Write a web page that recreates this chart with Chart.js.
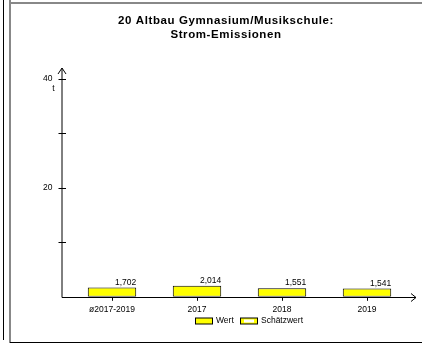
<!DOCTYPE html>
<html>
<head>
<meta charset="utf-8">
<script src="https://cdn.jsdelivr.net/npm/chart.js@4/dist/chart.umd.min.js"></script>
<style>
  html, body { margin: 0; padding: 0; background: #fff; }
  canvas { display: block; }
</style>
</head>
<body>
<canvas id="chart" width="422" height="343"></canvas>
<script>
// chart data
const categories = ['ø2017-2019', '2017', '2018', '2019']
const values = [1.702, 2.014, 1.551, 1.541]
const yTickLabels = ['20', '40']
const titleLines = ['20 Altbau Gymnasium/Musikschule:', 'Strom-Emissionen']
const legendLabels = ['Wert', 'Schätzwert']
const unitLabel = 't'

const FONT = '"Liberation Sans", Arial, sans-serif'
const BAR_COLOR = '#ffff00'

const fmt = (v) => v.toFixed(3).replace('.', ',')

const decorations = {
  id: 'decorations',
  afterDraw: (chart) => {
    const ctx = chart.ctx
    const area = chart.chartArea
    const y = chart.scales.y
    const axisX = area.left - 7.5
    const axisY = Math.round(area.bottom) + 0.5
    ctx.save()

    // frame
    ctx.strokeStyle = '#000'
    ctx.lineWidth = 1
    ctx.beginPath()
    ctx.moveTo(3.5, 0); ctx.lineTo(3.5, 340)
    ctx.stroke()
    ctx.strokeStyle = '#888'
    ctx.lineWidth = 2
    ctx.beginPath()
    ctx.moveTo(10, 0); ctx.lineTo(10, 343)
    ctx.moveTo(10, 3); ctx.lineTo(422, 3)
    ctx.stroke()
    ctx.strokeStyle = '#000'
    ctx.lineWidth = 1
    ctx.beginPath()
    ctx.moveTo(10, 342.5); ctx.lineTo(422, 342.5)
    ctx.stroke()

    // title
    ctx.fillStyle = '#000'
    ctx.font = 'bold 11.5px ' + FONT
    ctx.letterSpacing = '0.6px'
    ctx.textAlign = 'center'
    ctx.textBaseline = 'alphabetic'
    ctx.fillText(titleLines[0], 226, 23.5)
    ctx.fillText(titleLines[1], 226, 37.5)
    ctx.letterSpacing = '0px'

    // axes with arrows
    ctx.strokeStyle = '#000'
    ctx.lineWidth = 1
    ctx.beginPath()
    ctx.moveTo(axisX, axisY); ctx.lineTo(axisX, 68)
    ctx.moveTo(axisX - 4, 74); ctx.lineTo(axisX, 68); ctx.lineTo(axisX + 4, 74)
    ctx.moveTo(axisX, axisY); ctx.lineTo(416, axisY)
    ctx.moveTo(411, axisY - 4); ctx.lineTo(416, axisY); ctx.lineTo(411, axisY + 4)
    // y ticks
    ;[10, 20, 30, 40].forEach(v => {
      const py = Math.round(y.getPixelForValue(v)) + 0.5
      ctx.moveTo(axisX - 3.5, py); ctx.lineTo(axisX + 4, py)
    })
    ctx.stroke()

    // unit
    ctx.font = '8.5px ' + FONT
    ctx.textAlign = 'center'
    ctx.textBaseline = 'middle'
    ctx.fillText(unitLabel, 53.5, y.getPixelForValue(40) + 10)

    // value labels
    const meta = chart.getDatasetMeta(0)
    ctx.textAlign = 'right'
    ctx.textBaseline = 'bottom'
    meta.data.forEach((bar, i) => {
      ctx.fillText(fmt(values[i]), bar.x + bar.width / 2, bar.y - 1)
    })

    // legend
    const ly = 321
    ctx.textAlign = 'left'
    ctx.textBaseline = 'middle'
    ctx.fillStyle = BAR_COLOR
    ctx.fillRect(195.5, ly - 3, 17, 6)
    ctx.strokeRect(195.5, ly - 3, 17, 6)
    ctx.fillStyle = '#000'
    ctx.fillText(legendLabels[0], 216, ly)
    ctx.fillStyle = BAR_COLOR
    ctx.fillRect(240.5, ly - 3, 17, 6)
    ctx.fillStyle = '#fff'
    ctx.fillRect(244, ly - 1.5, 10, 3)
    ctx.strokeRect(240.5, ly - 3, 17, 6)
    ctx.fillStyle = '#000'
    ctx.fillText(legendLabels[1], 261, ly)

    ctx.restore()
  }
}

new Chart(document.getElementById('chart'), {
  type: 'bar',
  data: {
    labels: categories,
    datasets: [{
      label: legendLabels[0],
      data: values,
      backgroundColor: BAR_COLOR,
      borderColor: '#000',
      borderWidth: 1,
      borderSkipped: false,
      barPercentage: 0.57,
      categoryPercentage: 1
    }]
  },
  options: {
    responsive: false,
    animation: false,
    devicePixelRatio: 1,
    layout: {
      padding: { top: 79, left: 0, right: 12.5, bottom: 24 }
    },
    plugins: {
      legend: { display: false },
      title: { display: false },
      tooltip: { enabled: false }
    },
    scales: {
      x: {
        grid: {
          display: true,
          drawOnChartArea: false,
          offset: false,
          tickLength: 4,
          tickColor: '#000'
        },
        border: { display: false },
        ticks: {
          color: '#000',
          padding: 4,
          maxRotation: 0,
          font: { family: FONT, size: 8.5 }
        }
      },
      y: {
        min: 0,
        max: 40,
        afterFit: (scale) => { scale.width = 69.5 },
        grid: { display: false },
        border: { display: false },
        ticks: {
          stepSize: 10,
          color: '#000',
          padding: 9,
          font: { family: FONT, size: 8.5 },
          callback: (v) => yTickLabels.includes(String(v)) ? String(v) : ''
        }
      }
    }
  },
  plugins: [decorations]
})
</script>
</body>
</html>
